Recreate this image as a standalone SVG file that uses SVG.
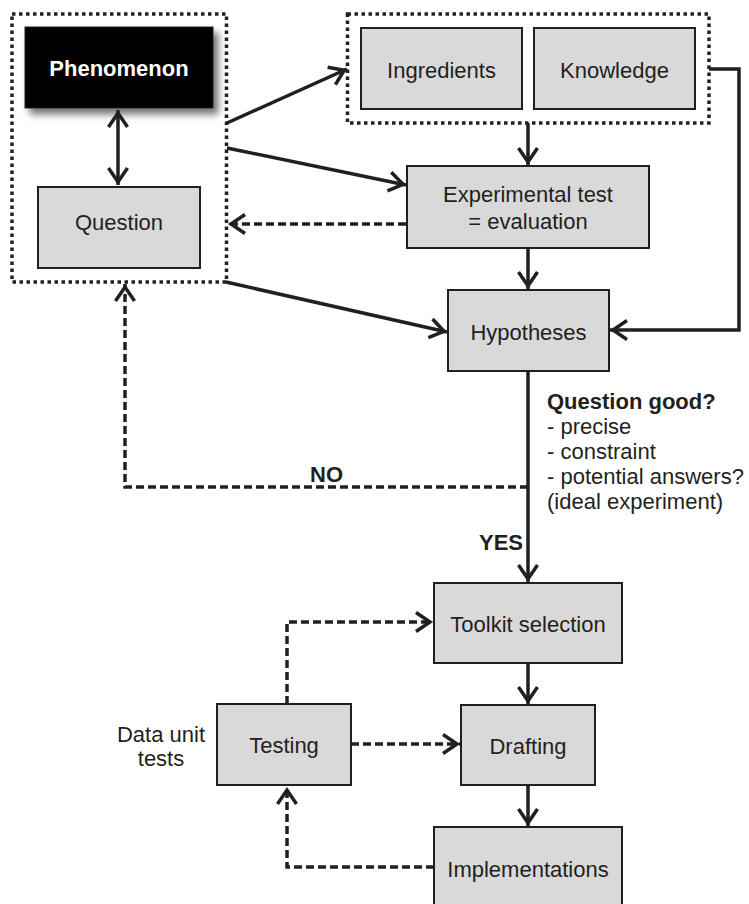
<svg xmlns="http://www.w3.org/2000/svg" width="749" height="904" viewBox="0 0 749 904">
<style>
.box{fill:#d9d9d9;stroke:#231f20;stroke-width:2}
.grp{fill:none;stroke:#231f20;stroke-width:3.5;stroke-dasharray:3.5 3.5}
.t{font-family:"Liberation Sans",Arial,sans-serif;font-size:22px;fill:#231f20;text-anchor:middle}
.tl{font-family:"Liberation Sans",Arial,sans-serif;font-size:22px;fill:#231f20}
.b{font-weight:bold}
.c{fill:none;stroke:#231f20;stroke-width:3.5}
.d{fill:none;stroke:#231f20;stroke-width:3.5;stroke-dasharray:8 4}
</style>
<defs>
<marker id="ah" markerUnits="userSpaceOnUse" markerWidth="24" markerHeight="26" refX="19" refY="12" orient="auto-start-reverse" overflow="visible">
<path d="M2,2.5 L16,12 L2,21.5" fill="none" stroke="#231f20" stroke-width="3.5" stroke-dasharray="none"/>
</marker>
<filter id="sh" x="-20%" y="-20%" width="150%" height="160%">
<feDropShadow dx="5" dy="6" stdDeviation="3.5" flood-color="#555" flood-opacity="0.8"/>
</filter>
</defs>
<rect width="749" height="904" fill="#ffffff"/>

<g id="group-left">
<rect class="grp" x="12" y="14" width="214.5" height="268"/>
</g>
<g id="group-top">
<rect class="grp" x="347.5" y="14" width="361.5" height="109"/>
</g>

<g id="phenomenon">
<rect x="25" y="27" width="188" height="81" fill="#000000" stroke="#231f20" stroke-width="1" filter="url(#sh)"/>
<text class="t b" x="119" y="76" style="fill:#ffffff">Phenomenon</text>
</g>
<g id="question">
<rect class="box" x="38" y="187" width="162" height="81"/>
<text class="t" x="119" y="229.5">Question</text>
</g>
<g id="ingredients">
<rect class="box" x="361" y="28" width="161" height="81"/>
<text class="t" x="441.5" y="77.5">Ingredients</text>
</g>
<g id="knowledge">
<rect class="box" x="534" y="28" width="161" height="81"/>
<text class="t" x="614.5" y="77.5">Knowledge</text>
</g>
<g id="experimental-test">
<rect class="box" x="407" y="166" width="242" height="82"/>
<text class="t" x="528" y="202">Experimental test</text>
<text class="t" x="528" y="229">= evaluation</text>
</g>
<g id="hypotheses">
<rect class="box" x="448" y="290" width="161" height="81"/>
<text class="t" x="528.5" y="340">Hypotheses</text>
</g>
<g id="criteria">
<text class="tl b" x="547" y="409">Question good?</text>
<text class="tl" x="547" y="434">- precise</text>
<text class="tl" x="547" y="459">- constraint</text>
<text class="tl" x="547" y="484">- potential answers?</text>
<text class="tl" x="547" y="509">(ideal experiment)</text>
</g>
<g id="toolkit-selection">
<rect class="box" x="434" y="583" width="188" height="80"/>
<text class="t" x="528" y="631.5">Toolkit selection</text>
</g>
<g id="drafting">
<rect class="box" x="461" y="705" width="134" height="80"/>
<text class="t" x="528" y="754">Drafting</text>
</g>
<g id="implementations">
<rect class="box" x="434" y="827" width="188" height="90"/>
<text class="t" x="528" y="876.5">Implementations</text>
</g>
<g id="testing">
<rect class="box" x="217" y="704" width="134" height="81"/>
<text class="t" x="284" y="753">Testing</text>
<text class="t" x="161" y="741.5">Data unit</text>
<text class="t" x="161" y="765.5">tests</text>
</g>

<g id="connectors">
<path class="c" d="M118,110 L118,185" marker-start="url(#ah)" marker-end="url(#ah)"/>
<path class="c" d="M227,123 L347,69" marker-end="url(#ah)"/>
<path class="c" d="M227,148 L406,185" marker-end="url(#ah)"/>
<path class="d" d="M406,224 L228,224" marker-end="url(#ah)"/>
<path class="c" d="M226,282 L447,332" marker-end="url(#ah)"/>
<path class="c" d="M528,123 L528,165" marker-end="url(#ah)"/>
<path class="c" d="M528,248 L528,289" marker-end="url(#ah)"/>
<path class="c" d="M709,69 L739,69 L739,330 L610,330" marker-end="url(#ah)"/>
<path class="c" d="M528,371 L528,582" marker-end="url(#ah)"/>
<path class="d" d="M528,487 L125,487 L125,284" marker-end="url(#ah)"/>
<text class="tl b" x="310" y="482">NO</text>
<text class="tl b" x="523" y="550" style="text-anchor:end">YES</text>
<path class="c" d="M528,663 L528,704" marker-end="url(#ah)"/>
<path class="c" d="M528,785 L528,826" marker-end="url(#ah)"/>
<path class="d" d="M287,704 L287,622 L433,622" marker-end="url(#ah)"/>
<path class="d" d="M351,744 L460,744" marker-end="url(#ah)"/>
<path class="d" d="M434,867 L287,867 L287,787" marker-end="url(#ah)"/>
</g>
</svg>
